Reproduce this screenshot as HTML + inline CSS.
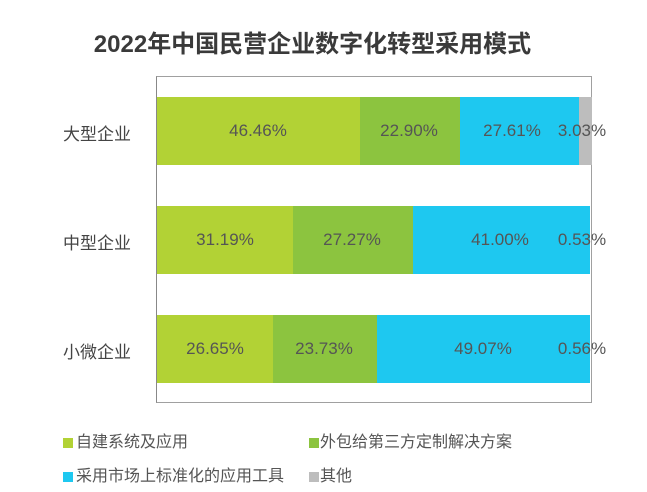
<!DOCTYPE html>
<html><head><meta charset="utf-8"><style>
body{margin:0;width:647px;height:492px;background:#fff;position:relative;overflow:hidden;font-family:"Liberation Sans","Noto Sans CJK SC",sans-serif}
.a{position:absolute}
.t{left:0;width:625px;top:24px;text-align:center;font-size:24px;font-weight:bold;color:#3a3a3a;font-family:"Liberation Sans","Noto Sans CJK SC",sans-serif}
.box{left:156px;top:76px;width:436px;height:327px;border:1px solid #a0a0a0;box-sizing:border-box;border-left:1.5px solid #888}
.s{position:absolute;height:68px}
.l{position:absolute;font-size:17px;color:#555;transform:translateX(-50%);line-height:20px}
.y{position:absolute;left:63px;font-size:17px;color:#444}
.sq{position:absolute;width:10px;height:10px}
.lg{position:absolute;font-size:16px;color:#555;line-height:22px;white-space:nowrap}
</style></head><body>
<div class="a t">2022年中国民营企业数字化转型采用模式</div>
<div class="a box"></div>
<div class="s" style="left:157px;top:97px;width:203px;background:#b2d235"></div>
<div class="s" style="left:360px;top:97px;width:100px;background:#8cc43f"></div>
<div class="s" style="left:460px;top:97px;width:119px;background:#1ec8f0"></div>
<div class="s" style="left:579px;top:97px;width:13px;background:#bdbdbd"></div>
<div class="s" style="left:157px;top:206px;width:136px;background:#b2d235"></div>
<div class="s" style="left:293px;top:206px;width:120px;background:#8cc43f"></div>
<div class="s" style="left:413px;top:206px;width:177px;background:#1ec8f0"></div>
<div class="s" style="left:157px;top:315px;width:116px;background:#b2d235"></div>
<div class="s" style="left:273px;top:315px;width:104px;background:#8cc43f"></div>
<div class="s" style="left:377px;top:315px;width:213px;background:#1ec8f0"></div>
<div class="l" style="left:258px;top:121px">46.46%</div>
<div class="l" style="left:409px;top:121px">22.90%</div>
<div class="l" style="left:512px;top:121px">27.61%</div>
<div class="l" style="left:582px;top:121px">3.03%</div>
<div class="l" style="left:225px;top:230px">31.19%</div>
<div class="l" style="left:352px;top:230px">27.27%</div>
<div class="l" style="left:500px;top:230px">41.00%</div>
<div class="l" style="left:582px;top:230px">0.53%</div>
<div class="l" style="left:215px;top:339px">26.65%</div>
<div class="l" style="left:324px;top:339px">23.73%</div>
<div class="l" style="left:483px;top:339px">49.07%</div>
<div class="l" style="left:582px;top:339px">0.56%</div>
<div class="y" style="top:120px">大型企业</div>
<div class="y" style="top:229px">中型企业</div>
<div class="y" style="top:338px">小微企业</div>
<div class="sq" style="left:63px;top:438px;background:#b2d235"></div>
<div class="lg" style="left:76px;top:432px">自建系统及应用</div>
<div class="sq" style="left:309px;top:438px;background:#8cc43f"></div>
<div class="lg" style="left:320px;top:432px">外包给第三方定制解决方案</div>
<div class="sq" style="left:63px;top:472px;background:#1ec8f0"></div>
<div class="lg" style="left:76px;top:466px">采用市场上标准化的应用工具</div>
<div class="sq" style="left:309px;top:472px;background:#bdbdbd"></div>
<div class="lg" style="left:320px;top:466px">其他</div>
</body></html>
